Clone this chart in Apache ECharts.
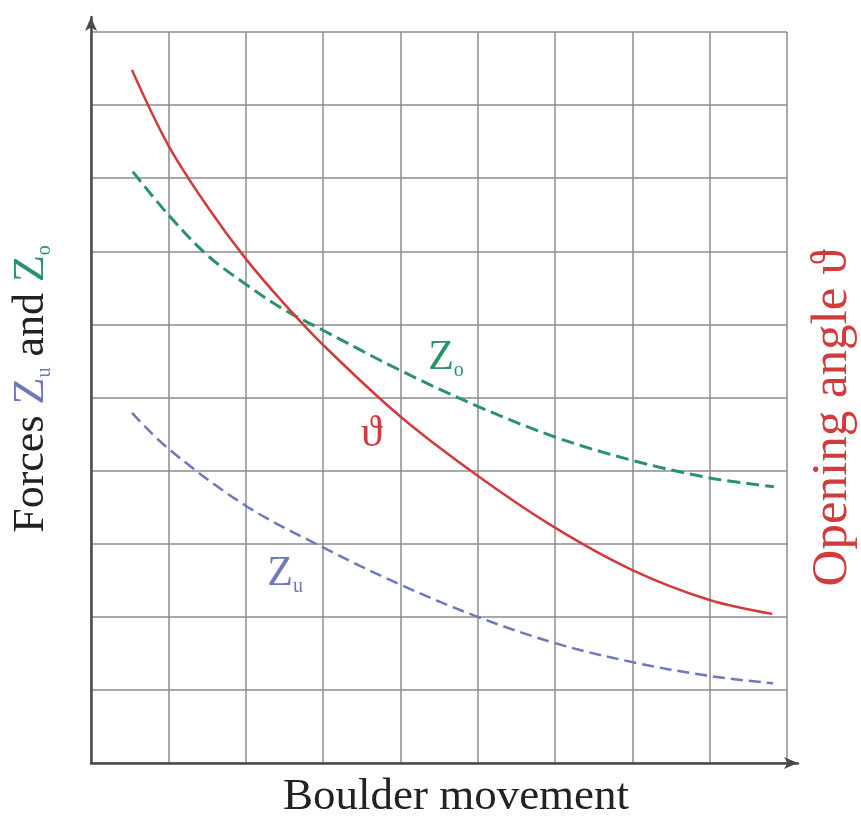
<!DOCTYPE html>
<html>
<head>
<meta charset="utf-8">
<script src="https://cdn.jsdelivr.net/npm/echarts@6/dist/echarts.min.js"></script>
<style>
  html, body { margin: 0; padding: 0; background: #fff; }
  #main { width: 861px; height: 820px; }
</style>
</head>
<body>
<div id="main"></div>
<script>
// 数据（网格单位，x 0..9, y 0..10）
var thetaX = [0.53, 1, 1.5, 2, 2.5, 3, 4, 5, 6, 7, 8, 8.81];
var thetaY = [9.48, 8.45, 7.62, 6.9, 6.28, 5.72, 4.74, 3.93, 3.22, 2.64, 2.23, 2.04];

var zoX = [0.54, 1, 1.5, 2, 2.5, 3, 4, 5, 6, 7, 8, 8.83];
var zoY = [8.09, 7.5, 6.95, 6.55, 6.2, 5.92, 5.37, 4.88, 4.46, 4.14, 3.9, 3.78];

var zuX = [0.53, 1, 2, 3, 4, 5, 6, 7, 8, 8.82];
var zuY = [4.79, 4.3, 3.52, 2.95, 2.44, 2.0, 1.64, 1.38, 1.19, 1.09];

var xTicks = [0, 9, 1];   // min, max, interval
var yTicks = [0, 10, 1];

var RED = '#d23b3d', GREEN = '#2a9468', BLUE = '#6d78bd';
var FONT = "'Liberation Serif', 'DejaVu Serif', serif";

function pairs(xs, ys) {
  return xs.map(function (x, i) { return [x, ys[i]]; });
}

var myChart = echarts.init(document.getElementById('main'));

var option = {
  animation: false,
  grid: [
    { left: 91, right: 74, top: 32, bottom: 57, outerBoundsMode: 'none' },   // 数据 + 网格线
    { left: 91, right: 63, top: 17, bottom: 57, outerBoundsMode: 'none' }    // 带箭头的坐标轴
  ],
  xAxis: [
    {
      type: 'value', gridIndex: 0, min: xTicks[0], max: xTicks[1], interval: xTicks[2],
      axisLine: { show: false }, axisTick: { show: false }, axisLabel: { show: false },
      splitLine: { show: true, lineStyle: { color: '#8c8c8c', width: 1.5 } },
      name: 'Boulder movement', nameLocation: 'middle', nameGap: 12,
      nameTextStyle: { fontFamily: FONT, fontSize: 45, color: '#222', padding: [0, 0, 0, 34] }
    },
    {
      type: 'value', gridIndex: 1, min: 0, max: 1,
      axisLine: { show: true, symbol: ['none', 'arrow'], symbolSize: [9, 14],
        lineStyle: { color: '#4a4a4a', width: 2.5 } },
      axisTick: { show: false }, axisLabel: { show: false }, splitLine: { show: false }
    }
  ],
  yAxis: [
    {
      type: 'value', gridIndex: 0, min: yTicks[0], max: yTicks[1], interval: yTicks[2],
      axisLine: { show: false }, axisTick: { show: false }, axisLabel: { show: false },
      splitLine: { show: true, lineStyle: { color: '#8c8c8c', width: 1.5 } },
      name: '{a|Forces }{zu|Z}{su|u}{a| and }{zo|Z}{so|o}',
      nameLocation: 'middle', nameRotate: 90, nameGap: 36,
      nameTextStyle: {
        padding: [0, 0, 0, 17],
        rich: {
          a: { fontFamily: FONT, fontSize: 44, color: '#222', lineHeight: 48 },
          zu: { fontFamily: FONT, fontSize: 44, color: BLUE, lineHeight: 48 },
          su: { fontFamily: FONT, fontSize: 20, color: BLUE, lineHeight: 22, verticalAlign: 'bottom' },
          zo: { fontFamily: FONT, fontSize: 44, color: GREEN, lineHeight: 48 },
          so: { fontFamily: FONT, fontSize: 20, color: GREEN, lineHeight: 22, verticalAlign: 'bottom' }
        }
      }
    },
    {
      type: 'value', gridIndex: 0, position: 'right', min: yTicks[0], max: yTicks[1],
      axisLine: { show: false }, axisTick: { show: false }, axisLabel: { show: false },
      splitLine: { show: false },
      name: 'Opening angle ϑ', nameLocation: 'middle', nameRotate: 90, nameGap: 20,
      nameTextStyle: { fontFamily: FONT, fontSize: 51, color: RED, padding: [0, 41, 0, 0] }
    },
    {
      type: 'value', gridIndex: 1, min: 0, max: 1,
      axisLine: { show: true, symbol: ['none', 'arrow'], symbolSize: [9, 14],
        lineStyle: { color: '#4a4a4a', width: 2.5 } },
      axisTick: { show: false }, axisLabel: { show: false }, splitLine: { show: false }
    }
  ],
  series: [
    {
      name: 'Zo', type: 'line', xAxisIndex: 0, yAxisIndex: 0,
      data: pairs(zoX, zoY), smooth: 0.35, showSymbol: false,
      lineStyle: { color: GREEN, width: 3, type: [13, 6] },
      markPoint: {
        symbol: 'circle', symbolSize: 0,
        label: { show: true, position: 'inside',
          formatter: '{z|Z}{s|o}',
          rich: {
            z: { fontFamily: FONT, fontSize: 42, color: GREEN, lineHeight: 46 },
            s: { fontFamily: FONT, fontSize: 20, color: GREEN, lineHeight: 22, verticalAlign: 'bottom' }
          } },
        data: [{ coord: [4.59, 5.54] }]
      }
    },
    {
      name: 'ϑ', type: 'line', xAxisIndex: 0, yAxisIndex: 0,
      data: pairs(thetaX, thetaY), smooth: 0.35, showSymbol: false,
      lineStyle: { color: RED, width: 2.5 },
      markPoint: {
        symbol: 'circle', symbolSize: 0,
        label: { show: true, position: 'inside', formatter: 'ϑ',
          fontFamily: FONT, fontSize: 44, color: RED },
        data: [{ coord: [3.63, 4.5] }]
      }
    },
    {
      name: 'Zu', type: 'line', xAxisIndex: 0, yAxisIndex: 0,
      data: pairs(zuX, zuY), smooth: 0.35, showSymbol: false,
      lineStyle: { color: BLUE, width: 2.5, type: [12, 6] },
      markPoint: {
        symbol: 'circle', symbolSize: 0,
        label: { show: true, position: 'inside',
          formatter: '{z|Z}{s|u}',
          rich: {
            z: { fontFamily: FONT, fontSize: 42, color: BLUE, lineHeight: 46 },
            s: { fontFamily: FONT, fontSize: 20, color: BLUE, lineHeight: 22, verticalAlign: 'bottom' }
          } },
        data: [{ coord: [2.51, 2.59] }]
      }
    }
  ]
};

myChart.setOption(option);
</script>
</body>
</html>
